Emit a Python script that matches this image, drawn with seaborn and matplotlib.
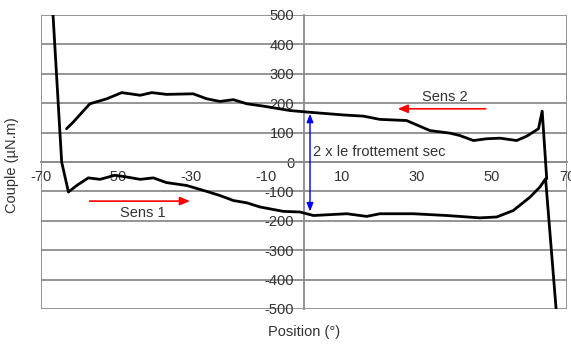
import matplotlib
matplotlib.use("Agg")
import matplotlib.pyplot as plt
import seaborn as sns
import pandas as pd

# Lower branch (Sens 1)
sens1_x = [-66.8, -64.5, -62.7, -60.5, -57.4, -54.3, -50.3, -47.2, -43.6, -40.1, -36.6, -31.2,
           -25.9, -22.4, -18.8, -15.2, -11.7, -5.5, -1.1, 2.5, 11.4, 16.7, 20.2, 29.1, 38.0,
           46.8, 51.3, 55.7, 60.2, 62.8, 64.3, 67.1]
sens1_y = [500, 0, -102, -80, -54, -59, -45, -51, -59, -54, -70, -80,
           -100, -114, -131, -139, -153, -168, -170, -182, -176, -185, -176, -176, -182,
           -190, -187, -165, -119, -85, -57, -500]

# Upper branch (Sens 2)
sens2_x = [-63.2, -61.4, -57.0, -52.5, -48.5, -43.6, -40.5, -36.6, -29.5, -25.9, -22.4, -18.8,
           -15.2, -10.8, -3.7, 0.7, 10.5, 15.8, 20.2, 27.3, 33.5, 38.9, 41.5, 45.1, 48.6,
           52.2, 56.6, 59.3, 62.4, 63.4, 64.6]
sens2_y = [113, 136, 198, 215, 236, 227, 236, 230, 232, 215, 206, 212,
           198, 190, 175, 170, 160, 156, 145, 141, 107, 98, 90, 73, 79,
           81, 73, 88, 113, 173, -57]

x_ticks = [-70, -50, -30, -10, 10, 30, 50, 70]
y_ticks = [-500, -400, -300, -200, -100, 0, 100, 200, 300, 400, 500]

df = pd.concat([
    pd.DataFrame({"Position": sens1_x, "Couple": sens1_y, "branche": "Sens 1"}),
    pd.DataFrame({"Position": sens2_x, "Couple": sens2_y, "branche": "Sens 2"}),
], ignore_index=True)

sns.set_style("white")
plt.rcParams["font.family"] = ["Liberation Sans", "DejaVu Sans"]
txt = "#333333"
grid_c = "#8c8c8c"
fs = 10.5

fig = plt.figure(figsize=(5.71, 3.45), dpi=100)
ax = fig.add_axes([41 / 571, 36 / 345, 526 / 571, 294 / 345])

for yv in y_ticks:
    ax.axhline(yv, color=grid_c, lw=1.3, zorder=0)
ax.axvline(-70, color=grid_c, lw=1.3, zorder=0)
ax.axvline(70, color=grid_c, lw=1.3, zorder=0)

sns.lineplot(data=df, x="Position", y="Couple", hue="branche", units="branche",
             estimator=None, sort=False, palette=["black", "black"], lw=2.0,
             legend=False, ax=ax, zorder=3)

ax.set_xlim(-70, 70)
ax.set_ylim(-500, 500)

for s in ["top", "right"]:
    ax.spines[s].set_visible(False)
ax.spines["left"].set_position(("data", 0))
ax.spines["bottom"].set_position(("data", 0))
ax.spines["left"].set_color(grid_c)
ax.spines["bottom"].set_color(grid_c)
ax.spines["left"].set_linewidth(1.3)
ax.spines["bottom"].set_linewidth(1.3)

ax.set_xticks(x_ticks)
ax.set_xticklabels([str(v) for v in x_ticks])
ax.set_yticks(y_ticks)
ax.set_yticklabels([str(v) for v in y_ticks])
ax.tick_params(axis="both", direction="out", colors=grid_c, labelcolor=txt,
               labelsize=fs, width=1.2)
ax.tick_params(axis="y", length=5, pad=2)
ax.tick_params(axis="x", length=3, pad=3)
ax.set_xlabel("")
ax.set_ylabel("")

fig.text(12 / 571, 1 - 165 / 345, "Couple (µN.m)", rotation=90, ha="center", va="center",
         fontsize=fs, color=txt)
fig.text(304 / 571, 1 - 332 / 345, "Position (°)", ha="center", va="center",
         fontsize=fs, color=txt)

# Annotations
ax.annotate("", xy=(-29.6, -133), xytext=(-57.8, -133),
            arrowprops=dict(arrowstyle="-|>,head_length=0.6,head_width=0.25", color="red", lw=1.2))
ax.text(-42.9, -173, "Sens 1", ha="center", va="center", fontsize=fs, color=txt)
ax.annotate("", xy=(24.2, 181), xytext=(49.1, 181),
            arrowprops=dict(arrowstyle="-|>,head_length=0.6,head_width=0.25", color="red", lw=1.2))
ax.text(37.5, 221, "Sens 2", ha="center", va="center", fontsize=fs, color=txt)
ax.annotate("", xy=(1.6, 164), xytext=(1.6, -168),
            arrowprops=dict(arrowstyle="<|-|>,head_length=0.5,head_width=0.2", color="blue", lw=1.0,
                            shrinkA=0, shrinkB=0))
ax.text(2.4, 34, "2 x le frottement sec", ha="left", va="center", fontsize=fs, color=txt)

fig.savefig("out.png", dpi=100)
